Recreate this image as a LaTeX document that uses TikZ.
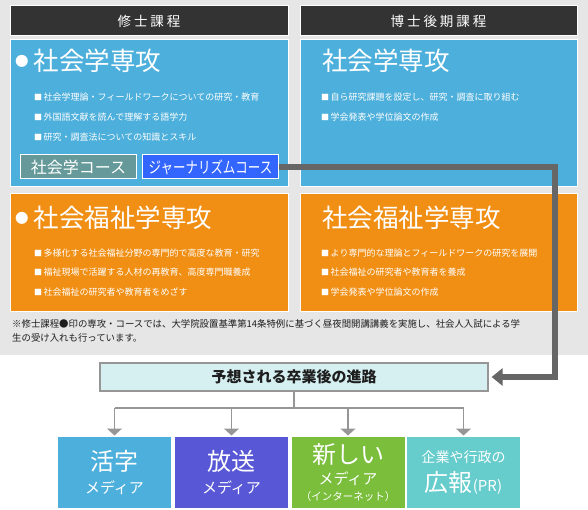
\documentclass[tikz,border=0pt]{standalone}
\usepackage{fontspec}
\setmainfont{Noto Sans CJK JP}
\newfontfamily\headfont[LetterSpace=22]{Noto Sans CJK JP}
\usetikzlibrary{arrows.meta,positioning}
\definecolor{bggray}{RGB}{230,230,230}
\definecolor{coal}{RGB}{51,51,51}
\definecolor{sky}{RGB}{77,175,219}
\definecolor{tangerine}{RGB}{240,143,20}
\definecolor{slate}{RGB}{102,153,153}
\definecolor{royal}{RGB}{51,102,255}
\definecolor{iris}{RGB}{88,88,214}
\definecolor{leaf}{RGB}{122,190,60}
\definecolor{aqua}{RGB}{102,204,204}
\definecolor{pale}{RGB}{214,240,242}
\definecolor{wire}{RGB}{150,150,150}
\definecolor{steel}{RGB}{102,102,102}
\definecolor{ink}{RGB}{30,30,30}
\newcommand{\dotmark}{\raisebox{4.5pt}{\fontsize{13.5pt}{13.5pt}\selectfont ●}\hspace{5pt}}
\newcommand{\sqmark}{{\fontsize{8pt}{8pt}\selectfont ■}\hspace{1.5pt}}
\newcommand{\bigword}[1]{{\fontsize{24pt}{24pt}\selectfont #1}}
\tikzset{
  >={Triangle[length=7pt,width=15pt]},
  panel/.style={fill=#1,draw=white,line width=1pt,inner sep=0pt,outer sep=0pt,anchor=north west},
  head/.style={panel=coal,text=white,font=\headfont\fontsize{13.5pt}{13.5pt}\selectfont,minimum height=30pt},
  title/.style={anchor=west,inner sep=0pt,text=white,font=\fontsize{25.5pt}{25.5pt}\selectfont},
  item/.style={anchor=west,inner sep=0pt,text=white,font=\fontsize{9pt}{9pt}\selectfont},
  course/.style={fill=#1,draw=white,line width=1pt,inner sep=0pt,anchor=west,
    minimum height=24pt,text=white,font=\fontsize{16pt}{16pt}\selectfont},
  dest/.style={fill=#1,inner sep=0pt,minimum width=113pt,minimum height=71pt,anchor=north,
    text=white,align=center,font=\fontsize{15pt}{18pt}\selectfont},
  branch/.style={->,draw=wire,line width=1.2pt},
}

\begin{document}
\begin{tikzpicture}[x=1pt,y=-1pt]
  \useasboundingbox (0,0) rectangle (588,510);
  \fill[bggray] (0,0) rectangle (588,355);
  % course headers
  \node[head,minimum width=278pt] (hmaster) at (10,6) {修士課程};
  \node[head,minimum width=277pt] (hdoctor) at (300,6) {博士後期課程};
  % sociology
  \node[panel=sky,minimum width=278pt,minimum height=147pt] (msoc) at (10,40) {};
  \node[panel=sky,minimum width=277pt,minimum height=147pt] (dsoc) at (300,40) {};
  % social welfare
  \node[panel=tangerine,minimum width=278pt,minimum height=117pt] (mwel) at (10,194) {};
  \node[panel=tangerine,minimum width=277pt,minimum height=117pt] (dwel) at (300,194) {};

  \node[title] (msoct) at (15,61) {\dotmark 社会学専攻};
  \node[title] (dsoct) at (322,61) {社会学専攻};
  \node[title] (mwelt) at (15,218) {\dotmark 社会福祉学専攻};
  \node[title] (dwelt) at (322,218) {社会福祉学専攻};

  \foreach \t [count=\i] in {社会学理論・フィールドワークについての研究・教育,
      外国語文献を読んで理解する語学力,研究・調査法についての知識とスキル}
    \node[item] (msoc\i) at (34,{77+20*\i}) {\sqmark\t};
  \foreach \t [count=\i] in {自ら研究課題を設定し、研究・調査に取り組む,学会発表や学位論文の作成}
    \node[item] (dsoc\i) at (321,{76.5+20.5*\i}) {\sqmark\t};
  \foreach \t [count=\i] in {多様化する社会福祉分野の専門的で高度な教育・研究,
      福祉現場で活躍する人材の再教育、高度専門職養成,社会福祉の研究者や教育者をめざす}
    \node[item] (mwel\i) at (34,{234+19.2*\i}) {\sqmark\t};
  \foreach \t [count=\i] in {より専門的な理論とフィールドワークの研究を展開,
      社会福祉の研究者や教育者を養成,学会発表や学位論文の作成}
    \node[item] (dwel\i) at (321,{234+19.2*\i}) {\sqmark\t};

  \node[course=slate,minimum width=116pt] (csoc) at (20,167) {社会学コース};
  \node[course=royal,minimum width=136pt] (cjour) at (142,167) {\scalebox{0.78}[1]{ジャーナリズムコース}};

  \node[anchor=north west,inner sep=0pt,align=left,text=ink,
    font=\fontsize{9.4pt}{14pt}\selectfont] (note) at (12,319)
    {※修士課程●印の専攻・コースでは、大学院設置基準第14条特例に基づく昼夜間開講講義を実施し、社会人入試による学\\
     生の受け入れも行っています。};

  % careers
  \node[draw=wire,fill=pale,line width=1.2pt,minimum width=388pt,minimum height=28pt,
    text=ink,font=\bfseries\fontsize{15pt}{15pt}\selectfont] (career) at (294,377) {予想される卒業後の進路};
  \node[dest=sky] (katsuji) at (114.5,437) {\bigword{活字}\\[5pt]メディア};
  \node[dest=iris] (housou) at (231.5,437) {\bigword{放送}\\[5pt]メディア};
  \node[dest=leaf] (shinki) at (348,437) {\bigword{新しい}\\[3pt]メディア\\[-2pt]{\fontsize{10.5pt}{11pt}\selectfont （インターネット）}};
  \node[dest=aqua] (kouhou) at (463.5,437) {{\fontsize{14pt}{14pt}\selectfont 企業や行政の}\\[6pt]\bigword{広報}(PR)};

  \coordinate (split) at (294,408);
  \draw[draw=wire,line width=1.2pt] (career.south) -- (split);
  \draw[draw=wire,line width=1.2pt] (katsuji.north |- split) -- (kouhou.north |- split);
  \foreach \d in {katsuji,housou,shinki,kouhou}
    \draw[branch] (\d.north |- split) -- ([yshift=1.5pt]\d.north);

  \coordinate (turn) at (555,377);
  \draw[steel,line width=6pt,-{Triangle[length=11pt,width=17pt]}] (cjour.east) -| (turn) -- ([xshift=3pt]career.east);
\end{tikzpicture}
\end{document}
